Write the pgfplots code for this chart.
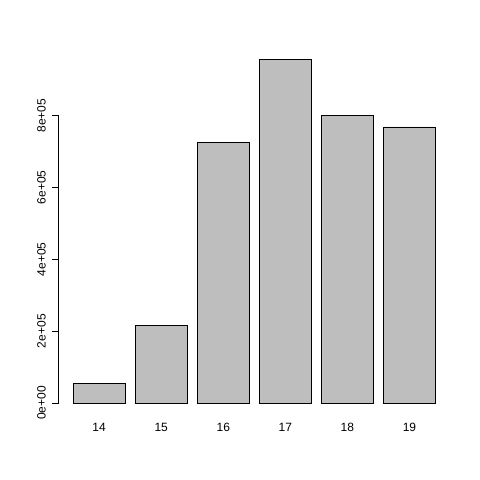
\documentclass[border=0pt]{standalone}
\usepackage{pgfplots}
\pgfplotsset{compat=1.18}
\usepackage{fontspec}
\setmainfont{Liberation Sans}
\begin{document}
\begin{tikzpicture}
\path[use as bounding box] (0,0) rectangle (480bp,480bp);
\begin{axis}[
  at={(58.8bp,63.25bp)}, anchor=south west,
  scale only axis, width=391bp, height=371.5bp,
  xmin=-0.08, xmax=7.48, ymin=-38308, ymax=996008,
  clip=false,
  axis line style={draw=none},
  xtick={0.7,1.9,3.1,4.3,5.5,6.7},
  xticklabels={14,15,16,17,18,19},
  xtick style={draw=none},
  ytick={0,200000,400000,600000,800000},
  yticklabels={0e+00,2e+05,4e+05,6e+05,8e+05},
  scaled y ticks=false,
  ytick style={draw=black, line width=0.75bp},
  major tick length=7.2bp,
  tick align=outside,
  ytick pos=left,
  xtick pos=bottom,
  ticklabel style={font=\fontsize{12bp}{14bp}\selectfont},
  yticklabel style={rotate=90, anchor=base, xshift=0bp, yshift=6bp},
  xticklabel style={anchor=base, yshift=-7.5bp},
  /pgf/number format/assume math mode=true,
]
\addplot[ybar, bar width=1, bar shift=0pt, fill={rgb,255:red,190;green,190;blue,190}, draw=black, line width=0.75bp]
  coordinates {(0.7,54800) (1.9,215300) (3.1,724700) (4.3,957700) (5.5,799500) (6.7,768400)};
\draw[line width=0.75bp] (axis cs:-0.08,0) -- (axis cs:-0.08,800000);
\end{axis}
\end{tikzpicture}
\end{document}
